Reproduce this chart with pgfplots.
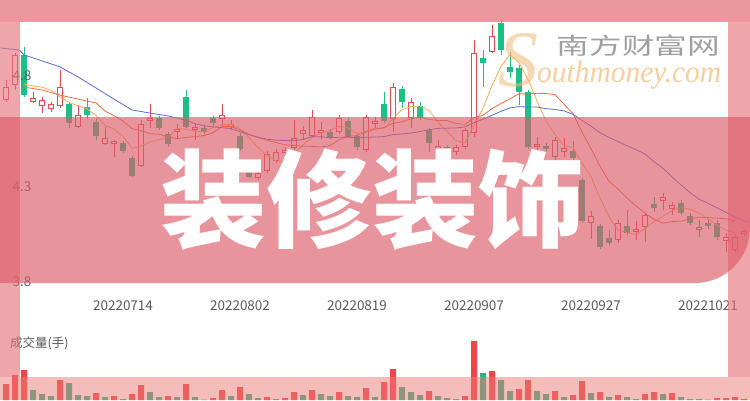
\documentclass[border=0pt]{standalone}
\usepackage{pgfplots}
\usepackage{pgfplotstable}
\pgfplotsset{compat=1.18}
\usepackage{fontspec}
\setmainfont{Noto Sans CJK SC}
\newfontfamily\wmserif{Liberation Serif}

\definecolor{upred}{RGB}{232,72,84}
\definecolor{dngreen}{RGB}{30,190,135}
\definecolor{ma5}{RGB}{245,172,95}
\definecolor{ma10}{RGB}{232,112,72}
\definecolor{ma20}{RGB}{92,108,210}
\definecolor{framec}{RGB}{228,112,120}
\definecolor{bottomc}{RGB}{235,125,118}
\definecolor{band}{RGB}{220,92,103}
\definecolor{lbl}{RGB}{90,90,90}
\definecolor{volred}{RGB}{240,68,72}
\definecolor{volgreen}{RGB}{48,176,128}
\definecolor{wmgray}{RGB}{160,160,160}
\definecolor{wmorange}{RGB}{246,206,160}
\definecolor{sorange}{RGB}{242,185,120}

% rising days (red, hollow): index, open, close, high, low
\pgfplotstableread{
i o c h l
0 4.692 4.750 4.782 4.683
1 4.759 4.895 4.904 4.737
3 4.683 4.701 4.728 4.678
4 4.665 4.692 4.705 4.633
5 4.651 4.674 4.683 4.638
6 4.665 4.750 4.827 4.656
8 4.570 4.624 4.669 4.566
11 4.494 4.521 4.570 4.489
12 4.494 4.507 4.512 4.435
15 4.395 4.584 4.602 4.390
16 4.597 4.611 4.674 4.566
19 4.548 4.561 4.584 4.521
21 4.557 4.570 4.584 4.512
24 4.606 4.624 4.674 4.570
25 4.570 4.584 4.602 4.557
28 4.341 4.363 4.386 4.332
29 4.372 4.449 4.462 4.363
30 4.417 4.458 4.471 4.408
31 4.453 4.467 4.480 4.444
32 4.476 4.521 4.602 4.467
33 4.539 4.557 4.575 4.512
34 4.530 4.615 4.647 4.525
35 4.543 4.557 4.593 4.516
37 4.548 4.611 4.624 4.539
40 4.467 4.615 4.624 4.458
41 4.584 4.597 4.615 4.566
43 4.606 4.750 4.768 4.548
45 4.611 4.683 4.701 4.566
48 4.471 4.485 4.512 4.444
50 4.458 4.480 4.489 4.444
51 4.480 4.557 4.566 4.471
52 4.543 4.904 4.962 4.525
54 4.908 4.980 5.030 4.904
59 4.480 4.494 4.525 4.467
61 4.435 4.512 4.525 4.422
62 4.458 4.476 4.521 4.435
65 4.138 4.169 4.192 4.066
68 4.061 4.138 4.151 4.048
70 4.097 4.111 4.147 4.061
71 4.120 4.174 4.178 4.052
73 4.237 4.255 4.273 4.196
74 4.201 4.219 4.232 4.174
77 4.106 4.120 4.151 4.075
80 4.057 4.075 4.093 4.007
81 4.016 4.075 4.088 4.007
82 4.088 4.102 4.111 4.079
}\upcandles

% falling days (green, filled)
\pgfplotstableread{
i o c h l
2 4.895 4.714 4.931 4.705
7 4.674 4.588 4.683 4.566
9 4.660 4.624 4.701 4.606
10 4.593 4.530 4.611 4.512
13 4.498 4.462 4.507 4.453
14 4.431 4.350 4.440 4.345
17 4.611 4.566 4.620 4.557
18 4.539 4.494 4.548 4.480
20 4.705 4.570 4.737 4.566
22 4.566 4.548 4.575 4.539
23 4.611 4.588 4.620 4.575
26 4.530 4.471 4.543 4.462
27 4.368 4.345 4.390 4.341
36 4.548 4.525 4.561 4.516
38 4.597 4.525 4.611 4.521
39 4.530 4.480 4.543 4.467
42 4.674 4.597 4.728 4.588
44 4.741 4.683 4.755 4.656
46 4.665 4.611 4.683 4.602
47 4.557 4.498 4.566 4.458
49 4.480 4.471 4.489 4.462
53 4.881 4.859 4.917 4.750
55 5.039 4.917 5.052 4.895
56 4.841 4.818 4.908 4.791
57 4.836 4.728 4.850 4.669
58 4.728 4.480 4.737 4.471
60 4.485 4.471 4.498 4.462
63 4.462 4.431 4.507 4.386
64 4.332 4.147 4.341 4.138
66 4.124 4.030 4.133 4.021
67 4.070 4.048 4.106 4.039
69 4.124 4.093 4.196 4.084
72 4.223 4.205 4.255 4.187
75 4.228 4.183 4.241 4.174
76 4.169 4.138 4.183 4.129
78 4.138 4.124 4.156 4.111
79 4.138 4.075 4.151 4.061
}\dncandles

\pgfplotstableread{
i v
0 16
1 25
2 30
6 20
10 7
12 4
14 6
15 15
18 4
20 16
23 2
24 10
26 13
29 3
31 2
32 8
34 10
37 8
40 12
42 18
43 31
47 9
51 4
52 59
54 29
57 11
58 20
61 9
63 5
64 19
66 8
68 5
71 6
72 8
74 7
79 2
80 2
81 3
82 1
}\volup

\pgfplotstableread{
i v
3 10
4 6
5 4
7 17
8 5
9 4
11 3
13 1
16 8
17 3
19 3
21 3
22 0.5
25 4
27 6
28 2
30 1
33 5
35 6
36 4
38 4
39 3
41 3
44 13
45 8
46 5
48 4
49 2
50 1
53 27
55 20
56 9
59 9
60 6
62 3
65 7
67 3
69 3
70 1
73 6
75 3
76 1
77 1
78 0.5
}\voldn

\pgfplotsset{
  wick/.style={draw=none, forget plot,
    error bars/.cd, y dir=plus, y explicit, error mark=none,
    error bar style={draw=#1, line width=1pt}},
  body/.style={draw=none, forget plot,
    error bars/.cd, y dir=plus, y explicit, error mark=none,
    error bar style={draw=#1, line width=6pt}},
}

\begin{document}
\begin{tikzpicture}
\useasboundingbox (0pt,0pt) rectangle (750pt,400pt);
\fill[white] (0pt,0pt) rectangle (750pt,400pt);

\begin{axis}[
  at={(0pt,105pt)}, anchor=south west,
  width=750pt, height=273pt, scale only axis,
  xmin=-0.6667, xmax=82.6667, ymin=3.8135, ymax=5.0432,
  clip=false, axis on top,
  axis line style={draw=none},
  major tick length=0pt,
  xtick={13,26,39,52,65,78},
  xticklabels={20220714,20220802,20220819,20220907,20220927,20221021},
  ytick={3.872,4.3,4.8},
  yticklabels={3.8,4.3,4.8},
  /pgf/number format/assume math mode=true,
  tick label style={font=\fontsize{13.5}{14}\selectfont, text=lbl},
  yticklabel style={anchor=center, xshift=22pt},
  xticklabel style={yshift=-2pt},
]
% wicks
\addplot[wick=upred] table[x=i, y=l, y error plus expr=\thisrow{h}-\thisrow{l}] \upcandles;
\addplot[wick=dngreen] table[x=i, y=l, y error plus expr=\thisrow{h}-\thisrow{l}] \dncandles;
% bodies
\addplot[body=upred] table[x=i, y=o, y error plus expr=\thisrow{c}-\thisrow{o}] \upcandles;
\addplot[draw=none, forget plot,
  error bars/.cd, y dir=plus, y explicit, error mark=none,
  error bar style={draw=white, line width=4pt, shorten <=1pt, shorten >=1pt}]
  table[x=i, y=o, y error plus expr=\thisrow{c}-\thisrow{o}] \upcandles;
\addplot[body=dngreen] table[x=i, y=c, y error plus expr=\thisrow{o}-\thisrow{c}] \dncandles;

% MA5
\addplot[ma5, line width=0.8pt, mark=none] coordinates {
(2,4.764)(3,4.755)(4,4.750)(5,4.735)(6,4.706)(7,4.681)(8,4.666)(9,4.652)(10,4.623)
(11,4.577)(12,4.561)(13,4.529)(14,4.474)(15,4.485)(16,4.503)(17,4.514)(18,4.521)
(19,4.563)(20,4.560)(21,4.552)(22,4.549)(23,4.568)(24,4.580)(25,4.583)(26,4.563)
(27,4.523)(28,4.477)(29,4.442)(30,4.417)(31,4.416)(32,4.451)(33,4.490)(34,4.523)
(35,4.543)(36,4.555)(37,4.573)(38,4.567)(39,4.540)(40,4.551)(41,4.566)(42,4.563)
(43,4.608)(44,4.649)(45,4.662)(46,4.665)(47,4.645)(48,4.592)(49,4.550)(50,4.509)
(51,4.498)(52,4.579)(53,4.654)(54,4.756)(55,4.843)(56,4.896)(57,4.860)(58,4.785)
(59,4.687)(60,4.598)(61,4.537)(62,4.486)(63,4.477)(64,4.407)(65,4.347)(66,4.250)
(67,4.165)(68,4.106)(69,4.096)(70,4.084)(71,4.113)(72,4.144)(73,4.168)(74,4.193)
(75,4.207)(76,4.200)(77,4.183)(78,4.157)(79,4.128)(80,4.106)(81,4.095)
};
% MA10
\addplot[ma10, line width=0.8pt, mark=none] coordinates {
(2,4.750)(4,4.737)(6,4.714)(8,4.696)(9,4.687)(10,4.679)(11,4.642)(12,4.621)
(13,4.597)(14,4.563)(15,4.554)(16,4.540)(17,4.538)(18,4.525)(19,4.518)(20,4.523)
(21,4.527)(22,4.532)(23,4.544)(24,4.572)(25,4.572)(26,4.558)(27,4.536)(28,4.523)
(29,4.511)(30,4.500)(31,4.490)(32,4.487)(33,4.484)(34,4.483)(35,4.480)(36,4.486)
(37,4.512)(38,4.528)(39,4.532)(40,4.547)(41,4.560)(42,4.568)(43,4.587)(44,4.594)
(45,4.607)(46,4.615)(47,4.604)(48,4.600)(49,4.599)(50,4.586)(51,4.582)(52,4.612)
(53,4.623)(54,4.653)(55,4.676)(56,4.697)(57,4.720)(58,4.719)(59,4.722)(60,4.721)
(61,4.716)(62,4.673)(63,4.631)(64,4.547)(65,4.473)(66,4.394)(67,4.326)(68,4.291)
(69,4.251)(70,4.215)(71,4.182)(72,4.155)(73,4.137)(74,4.144)(75,4.146)(76,4.156)
(77,4.164)(78,4.162)(79,4.160)(80,4.157)(81,4.147)
};
% MA20
\addplot[ma20, line width=0.8pt, mark=none] coordinates {
(-0.6,4.926)(1.5,4.917)(2,4.895)(4,4.868)(6,4.841)(8,4.796)(10,4.746)(12,4.696)
(14,4.647)(16,4.633)(18,4.620)(19,4.610)(20,4.601)(21,4.585)(22,4.576)(23,4.571)
(24,4.567)(25,4.563)(26,4.549)(27,4.537)(28,4.524)(29,4.515)(30,4.511)(31,4.509)
(32,4.509)(33,4.514)(34,4.527)(35,4.526)(36,4.522)(37,4.524)(38,4.525)(39,4.521)
(40,4.524)(41,4.525)(42,4.527)(43,4.536)(44,4.539)(45,4.543)(46,4.550)(47,4.558)
(48,4.564)(49,4.565)(50,4.566)(51,4.571)(52,4.590)(53,4.605)(54,4.623)(55,4.641)
(56,4.656)(57,4.662)(58,4.660)(59,4.660)(60,4.653)(61,4.649)(62,4.643)(63,4.627)
(64,4.600)(65,4.574)(66,4.545)(67,4.523)(68,4.505)(69,4.486)(70,4.468)(71,4.449)
(72,4.414)(73,4.384)(74,4.346)(75,4.309)(76,4.275)(77,4.245)(78,4.227)(79,4.206)
(80,4.186)(81,4.164)(82.6,4.140)
};
\end{axis}

% volume
\begin{axis}[
  at={(0pt,0pt)}, anchor=south west,
  width=750pt, height=60pt, scale only axis,
  xmin=-0.6667, xmax=82.6667, ymin=0, ymax=60,
  hide axis, clip=false,
]
\addplot[ybar, bar width=6pt, bar shift=0pt, fill=volred, draw=none] table[x=i, y=v] \volup;
\addplot[ybar, bar width=6pt, bar shift=0pt, fill=volgreen, draw=none] table[x=i, y=v] \voldn;
\end{axis}

\begin{scope}[x=1pt, y=1pt]
\node[anchor=west, inner sep=0, text=lbl, font=\fontsize{12.5}{13}\selectfont] at (10,57) {成交量(手)};

% frame overlays
\fill[framec, opacity=0.72] (0,378) rectangle (750,400);
\fill[framec, opacity=0.62] (0,23) rectangle (20,378);
\fill[framec, opacity=0.62] (728,23) rectangle (750,378);
\fill[bottomc, opacity=0.5] (0,0) rectangle (750,23);

% banner
\fill[band, opacity=0.65] (0,283) -- (750,283) -- (750,172)
  arc[start angle=0, end angle=-90, radius=55] -- (0,117) -- cycle;

% watermark
\node[inner sep=0, text=wmgray, xscale=1.42, font=\fontsize{23}{23}\selectfont] at (638.5,354) {南方财富网};
\node[anchor=base west, inner sep=0, text=sorange, opacity=0.55, font=\wmserif\itshape\fontsize{80}{80}\selectfont] at (498,313) {S};
\node[anchor=base west, inner sep=0, text=wmorange, xscale=0.95, font=\wmserif\itshape\fontsize{31}{31}\selectfont] at (537,318) {outhmoney.com};

% title
\node[inner sep=0, text=white, font=\fontsize{106}{106}\selectfont\bfseries] at (372.5,200) {装修装饰};
\end{scope}
\end{tikzpicture}
\end{document}
